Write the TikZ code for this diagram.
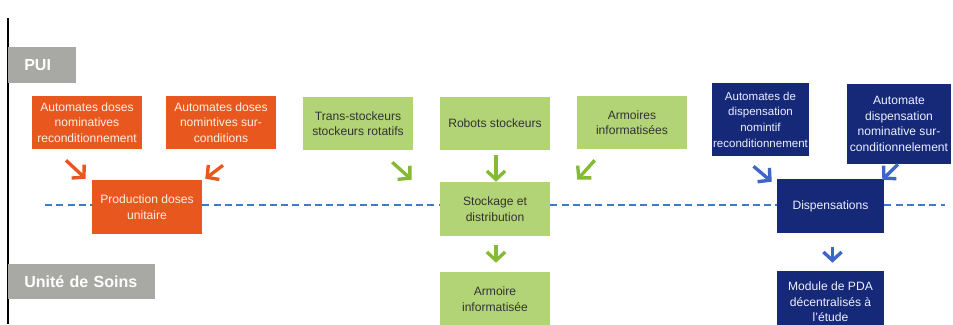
\documentclass[tikz,border=0pt]{standalone}
\usepackage{fontspec}
\setmainfont{Liberation Sans}
\usetikzlibrary{arrows.meta}

\definecolor{prodorange}{RGB}{232,88,30}
\definecolor{prodtext}{RGB}{255,238,226}
\definecolor{stockgreen}{RGB}{178,212,118}
\definecolor{stockarrow}{RGB}{132,186,52}
\definecolor{disptext}{RGB}{236,240,255}
\definecolor{dispnavy}{RGB}{22,40,120}
\definecolor{disparrow}{RGB}{62,102,200}
\definecolor{axisblue}{RGB}{62,122,202}
\definecolor{bandgray}{RGB}{168,168,164}

\begin{document}
\begin{tikzpicture}[x=0.025cm, y=-0.025cm,
        box/.style={rectangle, minimum width=2.75cm, minimum height=1.325cm, inner sep=1pt,
            align=center, font=\fontsize{8.6}{11.1}\selectfont},
        prodbox/.style={box, fill=prodorange, text=prodtext},
        stockbox/.style={box, fill=stockgreen, text=black!80},
        dispbox/.style={box, fill=dispnavy, text=disptext},
        band/.style={rectangle, fill=bandgray, text=white, anchor=north west, inner xsep=0.4cm,
            align=left, font=\fontsize{11.4}{13}\selectfont\bfseries},
        arrow/.style={-{Straight Barb[length=6pt, width=13pt, line width=2.4pt]}, line width=2.4pt},
        axis/.style={axisblue, line width=1.4pt, dash pattern=on 5pt off 3pt}
    ]
        \useasboundingbox (0,0) rectangle (953,324);

        % left rule and the two bands
        \draw[line width=1.2pt] (8,18) -- (8,324);
        \node[band, minimum width=1.7cm, minimum height=0.9cm, text width=0.9cm] (pui) at (8,47) {PUI};
        \node[band, minimum width=3.675cm, minimum height=0.875cm, text width=2.875cm] (soins) at (8,264) {Unité de Soins};

        % production (orange)
        \node[prodbox] (prod1) at (87,122.5) {Automates doses\\nominatives\\reconditionnement};
        \node[prodbox] (prod2) at (221,122.5) {Automates doses\\nomintives sur-\\conditions};
        \node[prodbox, minimum height=1.35cm] (prod) at (147,207) {Production doses\\unitaire};

        % stockage (green)
        \node[stockbox] (stock1) at (358,123.5) {Trans-stockeurs\\stockeurs rotatifs};
        \node[stockbox] (stock2) at (495,123.5) {Robots stockeurs};
        \node[stockbox] (stock3) at (632,122.5) {Armoires\\informatisées};
        \node[stockbox, minimum height=1.35cm] (stock) at (495,209) {Stockage et\\distribution};
        \node[stockbox, minimum height=1.35cm] (armoire) at (495,299) {Armoire\\informatisée};

        % dispensation (navy)
        \node[dispbox, minimum width=2.375cm, minimum height=1.825cm,
            font=\fontsize{8.2}{11.1}\selectfont] (disp1) at (760.5,119.5)
            {Automates de\\dispensation\\nomintif\\reconditionnement};
        \node[dispbox, minimum width=2.6cm, minimum height=2cm] (disp2) at (899,124)
            {Automate\\dispensation\\nominative sur-\\conditionnelement};
        \node[dispbox, minimum width=2.675cm, minimum height=1.35cm] (disp) at (830.5,206) {Dispensations};
        \node[dispbox, minimum width=2.675cm, minimum height=1.55cm] (pda) at (830.5,302)
            {Module de PDA\\décentralisés à\\l\symbol{39}étude};

        % dashed border between PUI and Unite de Soins
        \coordinate (axisstart) at (45,205);
        \coordinate (axisend) at (945,205);
        \draw[axis] (axisstart) -- (axisstart -| prod.west);
        \draw[axis] (axisstart -| prod.east) -- (axisstart -| stock.west);
        \draw[axis] (axisstart -| stock.east) -- (axisstart -| disp.west);
        \draw[axis] (axisstart -| disp.east) -- (axisend);

        \draw[arrow, prodorange] ([shift={(-21,11)}]prod1.south) -- ([shift={(-6,-1)}]prod.north west);
        \draw[arrow, prodorange] ([shift={(2,16)}]prod2.south) -- ([shift={(3,-1)}]prod.north east);

        \draw[arrow, stockarrow] ([shift={(-21,12)}]stock1.south east) -- ([shift={(-28,-2)}]stock.north west);
        \draw[arrow, stockarrow] ([shift={(1,5)}]stock2.south) -- ([shift={(1,0)}]stock.north);
        \draw[arrow, stockarrow] ([shift={(18,11)}]stock3.south west) -- ([shift={(27,-2)}]stock.north east);
        \draw[arrow, stockarrow] ([shift={(1,9)}]stock.south) -- ([shift={(1,-9)}]armoire.north);

        \draw[arrow, disparrow] ([shift={(-7,10)}]disp1.south) -- ([shift={(-5,3)}]disp.north west);
        \draw[arrow, disparrow] ([shift={(-1,0)}]disp2.south) -- ([shift={(-2,1)}]disp.north east);
        \draw[arrow, disparrow] ([shift={(2,14)}]disp.south) -- ([shift={(2,-8)}]pda.north);
    \end{tikzpicture}
\end{document}
